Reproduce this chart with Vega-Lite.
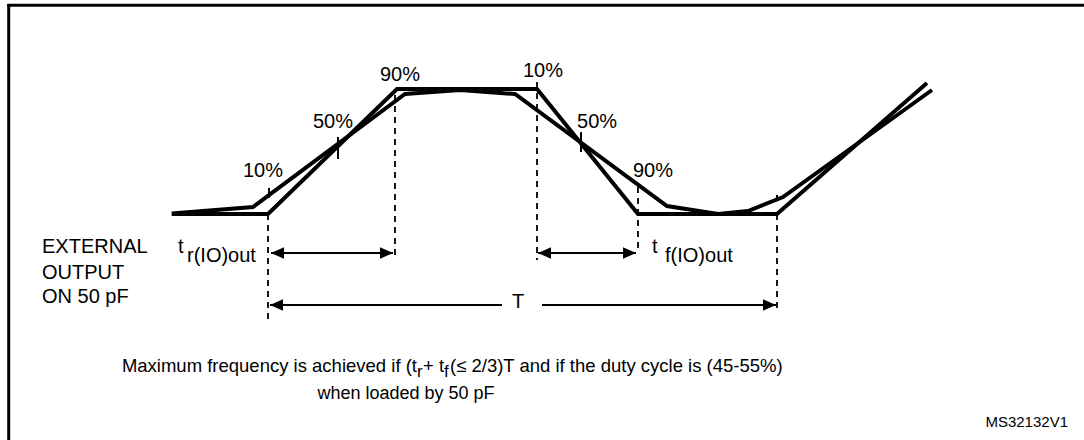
{
  "$schema": "https://vega.github.io/schema/vega-lite/v6.json",
  "width": 1084,
  "height": 440,
  "autosize": {"type": "none"},
  "padding": 0,
  "background": "white",
  "config": {"view": {"stroke": null}},
  "datasets": {
    "wave": [
      {"s": "ideal", "i": 0, "x": -18.9, "y": 0},
      {"s": "ideal", "i": 1, "x": 0, "y": 0},
      {"s": "ideal", "i": 2, "x": 25.34, "y": 100},
      {"s": "ideal", "i": 3, "x": 52.85, "y": 100},
      {"s": "ideal", "i": 4, "x": 72.69, "y": 0},
      {"s": "ideal", "i": 5, "x": 100, "y": 0},
      {"s": "ideal", "i": 6, "x": 129.47, "y": 104.8},
      {"s": "real", "i": 0, "x": -18.9, "y": 0.4},
      {"s": "real", "i": 1, "x": -2.95, "y": 5.6},
      {"s": "real", "i": 2, "x": 26.92, "y": 96},
      {"s": "real", "i": 3, "x": 37.72, "y": 99.2},
      {"s": "real", "i": 4, "x": 48.53, "y": 96},
      {"s": "real", "i": 5, "x": 78.39, "y": 6.4},
      {"s": "real", "i": 6, "x": 88.41, "y": 0},
      {"s": "real", "i": 7, "x": 94.3, "y": 2.4},
      {"s": "real", "i": 8, "x": 101.18, "y": 13.6},
      {"s": "real", "i": 9, "x": 130.45, "y": 99.2}
    ],
    "dash": [
      {"x": 0, "y": 0, "y2": -86.4},
      {"x": 24.95, "y": 95.2, "y2": -35.2},
      {"x": 52.85, "y": 105.6, "y2": -36.8},
      {"x": 72.69, "y": 21.6, "y2": -31.2},
      {"x": 100, "y": 0, "y2": -79.2}
    ],
    "tick": [
      {"x": 0.2, "y": 20.8, "y2": 12.8},
      {"x": 13.75, "y": 61.6, "y2": 44},
      {"x": 61.49, "y": 65.6, "y2": 49.6},
      {"x": 100, "y": 15.2, "y2": 11.2}
    ],
    "arrow": [
      {"x": 0.59, "x2": 24.56, "y": -31.2},
      {"x": 53.05, "x2": 72.3, "y": -31.2},
      {"x": 0.39, "x2": 45.97, "y": -72.8},
      {"x": 53.83, "x2": 99.8, "y": -72.8}
    ],
    "headL": [
      {"x": 0.59, "y": -31.2},
      {"x": 53.05, "y": -31.2},
      {"x": 0.39, "y": -72.8}
    ],
    "headR": [
      {"x": 24.56, "y": -31.2},
      {"x": 72.3, "y": -31.2},
      {"x": 99.8, "y": -72.8}
    ],
    "frame": [
      {"x": -51.2, "x2": 160.314, "y": 166.96, "y2": 166.96},
      {"x": -50.94, "x2": -50.94, "y": 168, "y2": -180.8}
    ],
    "pct": [
      {"x": 25.93, "y": 106.4, "t": "90%"},
      {"x": 12.77, "y": 68.8, "t": "50%"},
      {"x": -0.98, "y": 29.6, "t": "10%"},
      {"x": 54.03, "y": 109.6, "t": "10%"},
      {"x": 64.64, "y": 68.8, "t": "50%"},
      {"x": 75.64, "y": 29.6, "t": "90%"},
      {"x": 49.12, "y": -75.2, "t": "T"}
    ],
    "leftlab": [
      {"x": -44.4, "y": -31.2, "t": "EXTERNAL"},
      {"x": -44.4, "y": -52, "t": "OUTPUT"},
      {"x": -44.4, "y": -71.2, "t": "ON 50 pF"},
      {"x": -17.68, "y": -31.2, "t": "t"},
      {"x": 75.44, "y": -31.2, "t": "t"},
      {"x": -15.91, "y": -38.4, "t": "r(IO)out"},
      {"x": 78.0, "y": -38.4, "t": "f(IO)out"}
    ],
    "noteR": [
      {"x": 29.27, "y": -126.4, "t": "Maximum frequency is achieved if (t"}
    ],
    "noteL": [
      {"x": 30.45, "y": -126.4, "t": "+ t"},
      {"x": 35.76, "y": -126.4, "t": "(≤ 2/3)T and if the duty cycle is (45-55%)"}
    ],
    "noteSub": [
      {"x": 29.27, "y": -130.4, "t": "r"},
      {"x": 34.58, "y": -130.4, "t": "f"}
    ],
    "noteC": [
      {"x": 27.11, "y": -148, "t": "when loaded by 50 pF"}
    ],
    "code": [
      {"x": 157.17, "y": -170.4, "t": "MS32132V1"}
    ]
  },
  "encoding": {
    "x": {"field": "x", "type": "quantitative", "scale": {"domain": [-52.652, 160.314], "nice": false, "zero": false}, "axis": null},
    "y": {"field": "y", "type": "quantitative", "scale": {"domain": [-180.8, 171.2], "nice": false, "zero": false}, "axis": null}
  },
  "layer": [
    {
      "data": {"name": "frame"},
      "mark": {"type": "rule", "color": "black", "strokeWidth": 3},
      "encoding": {"x2": {"field": "x2"}, "y2": {"field": "y2"}}
    },
    {
      "data": {"name": "dash"},
      "mark": {"type": "rule", "color": "black", "strokeWidth": 1.8, "strokeDash": [6, 5]},
      "encoding": {"y2": {"field": "y2"}}
    },
    {
      "data": {"name": "tick"},
      "mark": {"type": "rule", "color": "black", "strokeWidth": 2},
      "encoding": {"y2": {"field": "y2"}}
    },
    {
      "data": {"name": "wave"},
      "mark": {"type": "line", "color": "black", "strokeWidth": 4, "strokeJoin": "miter"},
      "encoding": {"detail": {"field": "s", "type": "nominal"}, "order": {"field": "i", "type": "quantitative"}}
    },
    {
      "data": {"name": "arrow"},
      "mark": {"type": "rule", "color": "black", "strokeWidth": 2},
      "encoding": {"x2": {"field": "x2"}}
    },
    {
      "data": {"name": "headL"},
      "mark": {"type": "point", "shape": "M0,0L2,-0.9L2,0.9Z", "size": 169, "filled": true, "color": "black", "opacity": 1, "strokeWidth": 0},
      "encoding": {}
    },
    {
      "data": {"name": "headR"},
      "mark": {"type": "point", "shape": "M0,0L-2,-0.9L-2,0.9Z", "size": 169, "filled": true, "color": "black", "opacity": 1, "strokeWidth": 0},
      "encoding": {}
    },
    {
      "data": {"name": "pct"},
      "mark": {"type": "text", "font": "Liberation Sans", "fontSize": 20, "align": "center", "baseline": "alphabetic", "color": "black"},
      "encoding": {"text": {"field": "t"}}
    },
    {
      "data": {"name": "leftlab"},
      "mark": {"type": "text", "font": "Liberation Sans", "fontSize": 20, "align": "left", "baseline": "alphabetic", "color": "black"},
      "encoding": {"text": {"field": "t"}}
    },
    {
      "data": {"name": "noteR"},
      "mark": {"type": "text", "font": "Liberation Sans", "fontSize": 18.5, "align": "right", "baseline": "alphabetic", "color": "black"},
      "encoding": {"text": {"field": "t"}}
    },
    {
      "data": {"name": "noteL"},
      "mark": {"type": "text", "font": "Liberation Sans", "fontSize": 18.5, "align": "left", "baseline": "alphabetic", "color": "black"},
      "encoding": {"text": {"field": "t"}}
    },
    {
      "data": {"name": "noteSub"},
      "mark": {"type": "text", "font": "Liberation Sans", "fontSize": 17, "align": "left", "baseline": "alphabetic", "color": "black"},
      "encoding": {"text": {"field": "t"}}
    },
    {
      "data": {"name": "noteC"},
      "mark": {"type": "text", "font": "Liberation Sans", "fontSize": 18, "align": "center", "baseline": "alphabetic", "color": "black"},
      "encoding": {"text": {"field": "t"}}
    },
    {
      "data": {"name": "code"},
      "mark": {"type": "text", "font": "Liberation Sans", "fontSize": 15, "align": "right", "baseline": "alphabetic", "color": "black"},
      "encoding": {"text": {"field": "t"}}
    }
  ]
}
